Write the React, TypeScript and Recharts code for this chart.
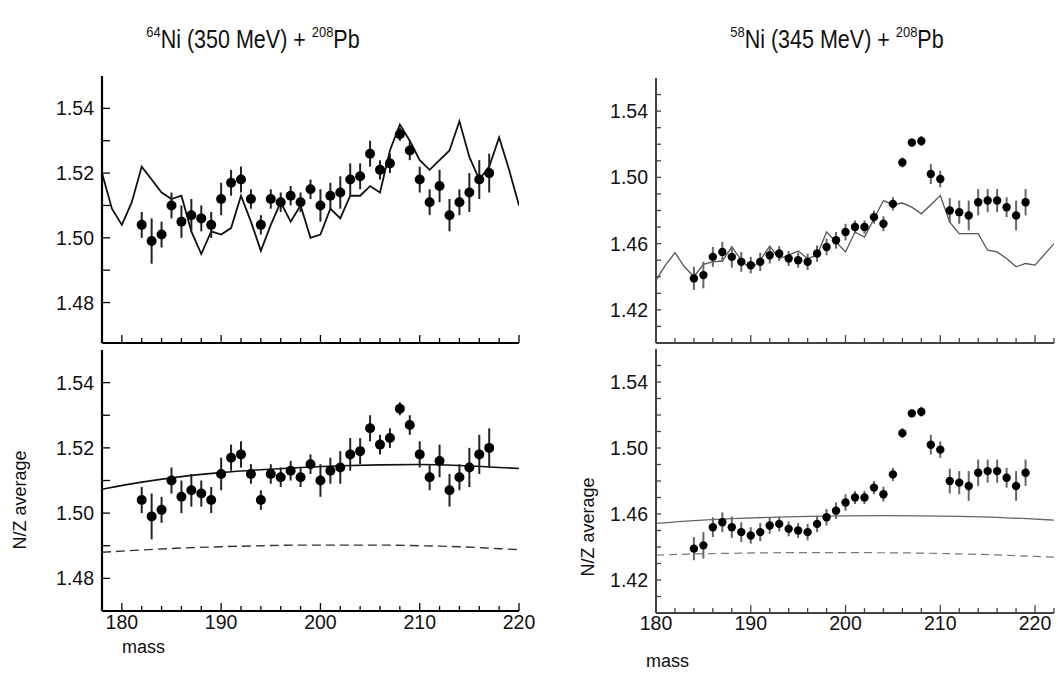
import React from "react";
import { ComposedChart, Line, Scatter, XAxis, YAxis, ErrorBar } from "recharts";

const FONT = "'Liberation Sans', Arial, Helvetica, sans-serif";

// 64Ni (350 MeV) + 208Pb : measured N/Z average per mass
const ni64Mass = [182, 183, 184, 185, 186, 187, 188, 189, 190, 191, 192, 193, 194, 195, 196, 197, 198, 199,
  200, 201, 202, 203, 204, 205, 206, 207, 208, 209, 210, 211, 212, 213, 214, 215, 216, 217];
const ni64NZ = [1.504, 1.499, 1.501, 1.510, 1.505, 1.507, 1.506, 1.504, 1.512, 1.517, 1.518, 1.512, 1.504, 1.512,
  1.511, 1.513, 1.511, 1.515, 1.510, 1.513, 1.514, 1.518, 1.519, 1.526, 1.521, 1.523, 1.532, 1.527, 1.518, 1.511,
  1.516, 1.507, 1.511, 1.514, 1.518, 1.520];
const ni64Err = [0.004, 0.007, 0.004, 0.004, 0.005, 0.005, 0.004, 0.004, 0.005, 0.004, 0.004, 0.003, 0.003, 0.003,
  0.003, 0.003, 0.003, 0.003, 0.005, 0.004, 0.005, 0.005, 0.004, 0.004, 0.003, 0.003, 0.002, 0.003, 0.004, 0.004,
  0.005, 0.005, 0.004, 0.006, 0.006, 0.006];

// model curve (upper left)
const ni64ModelMass = [178, 179, 180, 181, 182, 183, 184, 185, 186, 187, 188, 189, 190, 191, 192, 193, 194, 195, 196,
  197, 198, 199, 200, 201, 202, 203, 204, 205, 206, 207, 208, 209, 210, 211, 212, 213, 214, 215, 216, 217, 218, 219, 220];
const ni64Model = [1.520, 1.509, 1.504, 1.511, 1.522, 1.518, 1.514, 1.512, 1.513, 1.502, 1.495, 1.502, 1.501, 1.503,
  1.513, 1.505, 1.496, 1.504, 1.511, 1.505, 1.510, 1.500, 1.501, 1.509, 1.506, 1.513, 1.513, 1.516, 1.514, 1.527,
  1.535, 1.530, 1.524, 1.521, 1.524, 1.527, 1.536, 1.525, 1.518, 1.522, 1.531, 1.521, 1.510];

// smooth curves (lower left)
const ni64FitMass = [178, 182, 186, 190, 194, 198, 202, 206, 210, 214, 218, 220];
const ni64FitSolid = [1.5073, 1.5095, 1.5112, 1.5124, 1.5133, 1.5140, 1.5145, 1.5148, 1.5149, 1.5146, 1.5140, 1.5137];
const ni64FitDashed = [1.4880, 1.4887, 1.4893, 1.4897, 1.4900, 1.4902, 1.4902, 1.4902, 1.4900, 1.4897, 1.4891, 1.4888];

// 58Ni (345 MeV) + 208Pb
const ni58Mass = [184, 185, 186, 187, 188, 189, 190, 191, 192, 193, 194, 195, 196, 197, 198, 199, 200, 201, 202,
  203, 204, 205, 206, 207, 208, 209, 210, 211, 212, 213, 214, 215, 216, 217, 218, 219];
const ni58NZ = [1.439, 1.441, 1.452, 1.455, 1.452, 1.449, 1.447, 1.449, 1.453, 1.454, 1.451, 1.450, 1.449, 1.454,
  1.458, 1.462, 1.467, 1.470, 1.470, 1.476, 1.472, 1.484, 1.509, 1.521, 1.522, 1.502, 1.499, 1.480, 1.479, 1.477,
  1.485, 1.486, 1.486, 1.482, 1.477, 1.485];
const ni58Err = [0.007, 0.008, 0.006, 0.006, 0.0065, 0.006, 0.005, 0.0055, 0.005, 0.0045, 0.0045, 0.0045, 0.005,
  0.005, 0.005, 0.005, 0.005, 0.004, 0.004, 0.004, 0.0045, 0.004, 0.003, 0.0025, 0.003, 0.006, 0.005, 0.0075,
  0.007, 0.009, 0.008, 0.007, 0.007, 0.006, 0.009, 0.008];

const ni58ModelMass = [180, 181, 182, 183, 184, 185, 186, 187, 188, 189, 190, 191, 192, 193, 194, 195, 196, 197, 198,
  199, 200, 201, 202, 203, 204, 205, 206, 207, 208, 209, 210, 211, 212, 213, 214, 215, 216, 217, 218, 219, 220, 221, 222];
const ni58Model = [1.438, 1.447, 1.4545, 1.446, 1.440, 1.4475, 1.449, 1.4495, 1.458, 1.450, 1.4445, 1.450, 1.4585,
  1.451, 1.453, 1.4555, 1.451, 1.453, 1.467, 1.461, 1.455, 1.467, 1.464, 1.475, 1.486, 1.4835, 1.4845, 1.482, 1.478,
  1.4835, 1.489, 1.473, 1.466, 1.466, 1.466, 1.456, 1.455, 1.451, 1.446, 1.448, 1.447, 1.4535, 1.460];

const ni58FitMass = [180, 184, 188, 192, 196, 200, 204, 208, 212, 216, 220, 222];
const ni58FitSolid = [1.4543, 1.4560, 1.4572, 1.4580, 1.4586, 1.4589, 1.4590, 1.4589, 1.4586, 1.4580, 1.4569, 1.4563];
const ni58FitDashed = [1.4350, 1.4358, 1.4362, 1.4365, 1.4366, 1.4366, 1.4365, 1.4363, 1.4358, 1.4352, 1.4343, 1.4339];

// axis ticks
const ni64XTicks = [180, 182, 184, 186, 188, 190, 192, 194, 196, 198, 200, 202, 204, 206, 208, 210, 212, 214, 216, 218, 220];
const ni58XTicks = [180, 182, 184, 186, 188, 190, 192, 194, 196, 198, 200, 202, 204, 206, 208, 210, 212, 214, 216, 218, 220, 222];
const ni64YTicks = [1.48, 1.49, 1.50, 1.51, 1.52, 1.53, 1.54];
const ni64YLabels = [1.48, 1.50, 1.52, 1.54];
const ni58YTicks = [1.41, 1.42, 1.43, 1.44, 1.45, 1.46, 1.47, 1.48, 1.49, 1.50, 1.51, 1.52, 1.53, 1.54, 1.55];
const ni58YLabels = [1.42, 1.46, 1.50, 1.54];

type Pt = { mass: number; v: number; err?: number };
const zip = (m: number[], v: number[], e?: number[]): Pt[] =>
  m.map((mass, i) => ({ mass, v: v[i], err: e ? e[i] : undefined }));

type Curve = { data: Pt[]; color: string; width: number; dash?: string; smooth?: boolean };

type PanelProps = {
  left: number; top: number; w: number; h: number;
  xDomain: [number, number]; yDomain: [number, number];
  xTicks: number[]; yTicks: number[]; yLabels: number[];
  xLabels: boolean; frame: string; frameW: number; yTickLen: number; xLabelDy: number;
  points: Pt[]; dotR: number; errColor: string; curves: Curve[];
};

function Panel(p: PanelProps) {
  const YW = 70, M = 4, MR = 24;
  const XH = p.xLabels ? 40 : 4;
  const txt = { fontFamily: FONT, fontSize: 19.5, fill: "#111" };
  const labelled = (v: number) => p.yLabels.some((t) => Math.abs(t - v) < 1e-6);
  const xLen = (v: number) => (v % 10 === 0 ? 8 : 5);
  return (
    <div style={{ position: "absolute", left: p.left - YW, top: p.top - M }}>
      <ComposedChart width={YW + p.w + MR} height={M + p.h + XH} margin={{ top: M, right: MR, bottom: 0, left: 0 }}>
        <XAxis
          xAxisId="b" type="number" dataKey="mass" domain={p.xDomain} allowDataOverflow
          ticks={p.xTicks} interval={0} height={XH} tickSize={0} tickMargin={0} tickLine={false}
          axisLine={{ stroke: p.frame, strokeWidth: p.frameW }}
          tick={(t: any) => (
            <g>
              <line x1={t.x} y1={t.y} x2={t.x} y2={t.y - xLen(t.payload.value)} stroke={p.frame} strokeWidth={1.3} />
              {p.xLabels && t.payload.value % 10 === 0 && (
                <text x={t.x} y={t.y + p.xLabelDy} textAnchor="middle" {...txt}>{t.payload.value}</text>
              )}
            </g>
          )}
        />
        <XAxis
          xAxisId="t" orientation="top" type="number" dataKey="mass" domain={p.xDomain} allowDataOverflow
          ticks={p.xTicks} interval={0} height={0} tickSize={0} tickMargin={0} tickLine={false}
          axisLine={{ stroke: p.frame, strokeWidth: p.frameW }}
          tick={(t: any) => (
            <line x1={t.x} y1={t.y} x2={t.x} y2={t.y + xLen(t.payload.value)} stroke={p.frame} strokeWidth={1.3} />
          )}
        />
        <YAxis
          yAxisId="l" type="number" domain={p.yDomain} allowDataOverflow
          ticks={p.yTicks} interval={0} width={YW} tickSize={0} tickMargin={0} tickLine={false}
          axisLine={{ stroke: p.frame, strokeWidth: p.frameW }}
          tick={(t: any) => (
            <g>
              <line x1={t.x} y1={t.y} x2={t.x + p.yTickLen} y2={t.y} stroke={p.frame} strokeWidth={1.3} />
              {labelled(t.payload.value) && (
                <text x={t.x - 8} y={t.y + 7} textAnchor="end" {...txt}>{t.payload.value.toFixed(2)}</text>
              )}
            </g>
          )}
        />
        <YAxis
          yAxisId="r" orientation="right" type="number" domain={p.yDomain} allowDataOverflow
          ticks={p.yTicks} interval={0} width={0} tickSize={0} tickMargin={0} tickLine={false}
          axisLine={{ stroke: p.frame, strokeWidth: p.frameW }}
          tick={(t: any) => (
            <line x1={t.x} y1={t.y} x2={t.x - p.yTickLen} y2={t.y} stroke={p.frame} strokeWidth={1.3} />
          )}
        />
        {p.curves.map((c, i) => (
          <Line
            key={i} xAxisId="b" yAxisId="l" data={c.data} dataKey="v"
            type={c.smooth ? "monotone" : "linear"} stroke={c.color} strokeWidth={c.width}
            strokeDasharray={c.dash} dot={false} activeDot={false} isAnimationActive={false}
          />
        ))}
        <Scatter
          xAxisId="b" yAxisId="l" data={p.points} dataKey="v" isAnimationActive={false}
          shape={(s: any) => <circle cx={s.cx} cy={s.cy} r={p.dotR} fill="#000" />}
        >
          <ErrorBar dataKey="err" direction="y" width={0} stroke={p.errColor} strokeWidth={2} />
        </Scatter>
      </ComposedChart>
    </div>
  );
}

export default function App() {
  const left64 = zip(ni64Mass, ni64NZ, ni64Err);
  const left58 = zip(ni58Mass, ni58NZ, ni58Err);
  const common64 = {
    left: 102, w: 417, xDomain: [178, 220] as [number, number], xTicks: ni64XTicks,
    yTicks: ni64YTicks, yLabels: ni64YLabels, frame: "#000", frameW: 2.2, yTickLen: 8, xLabelDy: 18,
    points: left64, dotR: 5, errColor: "#222",
  };
  const common58 = {
    left: 656, w: 398, xDomain: [180, 222] as [number, number], xTicks: ni58XTicks,
    yTicks: ni58YTicks, yLabels: ni58YLabels, frame: "#444", frameW: 2, yTickLen: 5, xLabelDy: 17,
    yDomain: [1.40, 1.56] as [number, number], points: left58, dotR: 4.2, errColor: "#666",
  };
  const title = {
    position: "absolute" as const, top: 25, width: 400, textAlign: "center" as const, fontFamily: FONT,
    fontSize: 25, color: "#111", transform: "scaleX(0.86)", whiteSpace: "nowrap" as const,
  };
  const sup = { fontSize: 15, verticalAlign: "top", position: "relative" as const, top: -2 };
  const small = { position: "absolute" as const, fontFamily: FONT, fontSize: 18, color: "#111", whiteSpace: "nowrap" as const };
  return (
    <div style={{ position: "absolute", left: 0, top: 0, width: 1058, height: 677, background: "#fff" }}>
      <div style={{ ...title, left: 53 }}>
        <span style={sup}>64</span>Ni (350 MeV) + <span style={sup}>208</span>Pb
      </div>
      <div style={{ ...title, left: 637 }}>
        <span style={sup}>58</span>Ni (345 MeV) + <span style={sup}>208</span>Pb
      </div>

      <Panel {...common64} top={76} h={267} yDomain={[1.4675, 1.55]} xLabels={false}
        curves={[{ data: zip(ni64ModelMass, ni64Model), color: "#111", width: 1.8 }]} />
      <Panel {...common64} top={350} h={261} yDomain={[1.47, 1.55]} xLabels
        curves={[
          { data: zip(ni64FitMass, ni64FitSolid), color: "#111", width: 1.6, smooth: true },
          { data: zip(ni64FitMass, ni64FitDashed), color: "#333", width: 1.4, dash: "9 5", smooth: true },
        ]} />
      <Panel {...common58} top={78} h={265} xLabels={false}
        curves={[{ data: zip(ni58ModelMass, ni58Model), color: "#555", width: 1.3 }]} />
      <Panel {...common58} top={349} h={264} xLabels
        curves={[
          { data: zip(ni58FitMass, ni58FitSolid), color: "#666", width: 1.3, smooth: true },
          { data: zip(ni58FitMass, ni58FitDashed), color: "#777", width: 1.2, dash: "8 5", smooth: true },
        ]} />

      <div style={{ ...small, left: 20, top: 500, transform: "translate(-50%, -50%) rotate(-90deg)" }}>N/Z average</div>
      <div style={{ ...small, left: 588, top: 527, transform: "translate(-50%, -50%) rotate(-90deg)" }}>N/Z average</div>
      <div style={{ ...small, left: 122, top: 637 }}>mass</div>
      <div style={{ ...small, left: 646, top: 651 }}>mass</div>
    </div>
  );
}
